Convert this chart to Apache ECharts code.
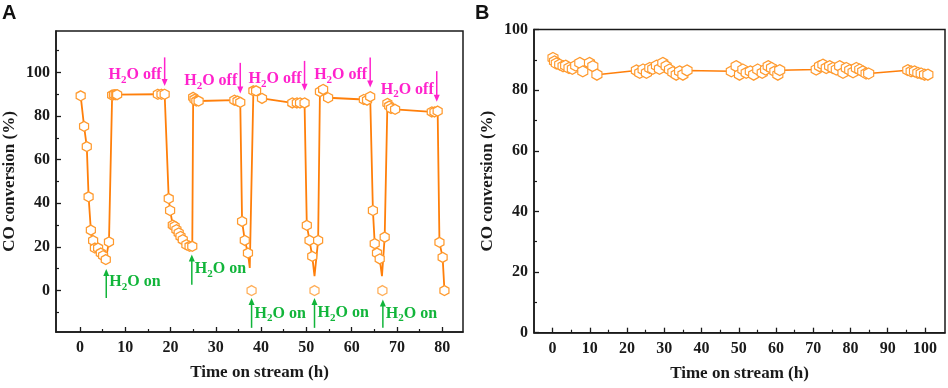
<!DOCTYPE html>
<html>
<head>
<meta charset="utf-8">
<script src="https://cdn.jsdelivr.net/npm/echarts@6/dist/echarts.min.js"></script>
<style>html,body{margin:0;padding:0;background:#fff}#c{width:948px;height:388px}</style>
</head>
<body>
<div id="c"></div>
<script>
// ---------- Panel A data ----------
const aTime = [0.15,0.9,1.5,1.9,2.4,2.9,3.3,4.0,4.6,5.1,5.7,6.4,7.1,7.5,7.9,8.2,17.2,18.0,18.7,
  19.6,19.9,20.5,20.9,21.3,21.8,22.2,22.7,23.5,24.2,24.8,25.0,25.3,25.7,26.2,34.1,34.8,35.4,
  35.8,36.4,37.1,37.5,38.3,38.9,40.2,46.9,47.9,48.6,49.6,50.1,50.7,51.3,51.8,52.6,53.0,53.7,54.8,
  62.7,63.4,64.1,64.7,65.1,65.6,66.2,66.7,67.3,67.9,68.3,68.7,69.6,77.7,78.3,79.0,79.4,80.1,80.5];
const aConv = [89.3,75.3,66,43,27.7,22.9,19.5,19.5,17.2,16,14.2,22.3,89.6,89.8,89.8,89.8,90,90,90,
  42.2,36.7,30,29.4,27.9,26.4,24.8,23.3,21,20.3,20.3,88.6,87.7,86.9,86.9,87.3,86.9,86.3,
  31.7,23,17.2,10.4,91.6,91.6,88.1,86,86,86,86,29.9,23,15.7,6.6,23,91.2,92.2,88.4,
  87.6,87.3,88.9,36.7,21.5,17.2,14.5,6.6,24.5,85.8,84.6,83.5,83.1,81.9,81.9,82.3,22.1,15.2,0];
// 0 = line vertex without a marker
const aMarker = [1,1,1,1,1,1,1,1,1,1,1,1,1,1,1,1,1,1,1,
  1,1,1,1,1,1,1,1,1,1,1,1,1,1,1,1,1,1,
  1,1,1,0,1,1,1,1,1,1,1,1,1,1,0,1,1,1,1,
  1,1,1,1,1,1,1,0,1,1,1,1,1,1,1,1,1,1,1];
// detached zero points
const aZeroTime = [37.9,51.8,66.8];
const aZeroConv = [0,0,0];

// annotations (data coordinates)
const offX = [18.7,35.4,49.6,64.1,78.8];
const offTop = [106.9,104.4,105.3,106.9,100.6];
const offBottom = [93.8,90.4,91.6,93.1,86.6];
const offTextY = [98.8,96.2,97,98.8,92.2];
const onX = [5.8,24.7,37.9,51.8,66.9];
const onBottom = [-3.4,2.7,-17.1,-17.1,-17.1];
const onTop = [9.9,16.5,-3.4,-3.4,-4.1];
const onTextY = [3.8,9.9,-10.5,-10.2,-10.5];

// ---------- Panel B data ----------
const bTime = [0.1,0.5,1.0,1.9,2.8,3.5,4.4,5.3,6.2,7.3,8.1,9.9,10.8,11.9,
  22.5,23.4,24.3,25.2,26.1,26.9,27.9,28.7,29.6,30.5,31.4,32.3,33.2,34.1,35.0,36.1,
  48.0,49.3,50.2,51.1,52.0,53.1,54.0,55.1,56.3,57.2,57.9,58.8,59.7,60.5,61.0,
  70.8,71.7,72.6,73.5,74.4,75.3,76.2,77.1,78.0,78.9,79.8,80.7,81.6,82.5,83.3,84.2,84.9,
  95.4,96.3,97.2,98.1,99.0,99.9,100.8];
const bConv = [90.6,89.5,88.8,88.4,87.9,88.1,87.3,87.0,88.1,89,86.2,89,87.9,85.1,
  86.5,85.7,86.8,85.7,87.3,87.0,88.1,87.0,89,87.9,86.8,85.9,85.1,86.2,85.1,86.5,
  86.2,87.9,85.1,86.8,85.7,86.2,85.1,86.8,85.7,86.8,87.9,87.3,86.2,85.1,86.6,
  86.8,87.9,88.4,87.3,87.9,87.3,86.8,87.9,85.7,87.3,86.6,85.9,87.3,86.8,86.2,85.5,85.5,
  86.6,86.2,86.2,85.7,85.5,85.1,85.1];

const xTicksA = [0,10,20,30,40,50,60,70,80];
const xMinorA = [5,15,25,35,45,55,65,75];
const yTicksA = [0,20,40,60,80,100];
const yMinorA = [-10,10,30,50,70,90,110];
const xTicksB = [0,10,20,30,40,50,60,70,80,90,100];
const xMinorB = [5,15,25,35,45,55,65,75,85,95];
const yMinorB = [10,30,50,70,90];

// ---------- styles ----------
const ORANGE = '#ff7f0a';
const MARK = '#ff9a2e';
const MAGENTA = '#ff22cc';
const GREEN = '#11b53a';
const AX = '#1a1a1a';
const SERIF = 'Liberation Serif';
const HEX = 'path://M0,-10L8.66,-5L8.66,5L0,10L-8.66,5L-8.66,-5Z';

function mainX(grid, min, max, ticks){
  return {type:'value', gridIndex:grid, min:min, max:max, position:'bottom',
    name:'Time on stream (h)', nameLocation:'middle', nameGap:32,
    nameTextStyle:{fontFamily:SERIF, fontWeight:'bold', fontSize:17, color:AX},
    axisLine:{onZero:false, lineStyle:{color:AX, width:1.5}},
    axisTick:{inside:true, length:5, customValues:ticks, lineStyle:{color:AX, width:1.3}},
    axisLabel:{customValues:ticks, fontFamily:SERIF, fontWeight:'bold', fontSize:16, color:AX, margin:8},
    splitLine:{show:false}};
}
function minorAxis(grid, min, max, vals, pos){
  return {type:'value', gridIndex:grid, min:min, max:max, position:pos,
    axisLine:{show:false, onZero:false}, axisLabel:{show:false}, splitLine:{show:false},
    axisTick:{inside:true, length:3, customValues:vals, lineStyle:{color:AX, width:1.2}}};
}
function mainY(grid, min, max, ticks){
  return {type:'value', gridIndex:grid, min:min, max:max, position:'left',
    name:'CO conversion (%)', nameLocation:'middle', nameGap:38, nameRotate:90,
    nameTextStyle:{fontFamily:SERIF, fontWeight:'bold', fontSize:17, color:AX},
    axisLine:{onZero:false, lineStyle:{color:AX, width:1.5}},
    axisTick:{inside:true, length:5, customValues:ticks, lineStyle:{color:AX, width:1.3}},
    axisLabel:{customValues:ticks, fontFamily:SERIF, fontWeight:'bold', fontSize:16, color:AX, margin:6},
    splitLine:{show:false}};
}

const lineDataA = aTime.map((t,i)=> aMarker[i] ? [t,aConv[i]] : {value:[t,aConv[i]], symbol:'none'});
const zeroDataA = aZeroTime.map((t,i)=>[t,aZeroConv[i]]);
const lineDataB = bTime.map((t,i)=>[t,bConv[i]]);

const chart = echarts.init(document.getElementById('c'), null, {renderer:'canvas'});
chart.setOption({
  animation:false,
  grid:[
    {left:54, right:485, top:31, bottom:56, show:true, borderColor:AX, borderWidth:1.5, containLabel:false},
    {left:534, right:3, top:29.5, bottom:55.3, show:true, borderColor:AX, borderWidth:1.5, containLabel:false}
  ],
  xAxis:[
    mainX(0,-5.3,84.6,xTicksA),
    minorAxis(0,-5.3,84.6,xMinorA,'bottom'),
    mainX(1,-5,105.4,xTicksB),
    minorAxis(1,-5,105.4,xMinorB,'bottom')
  ],
  yAxis:[
    mainY(0,-19,119,yTicksA),
    minorAxis(0,-19,119,yMinorA,'left'),
    mainY(1,0,100,yTicksA),
    minorAxis(1,0,100,yMinorB,'left')
  ],
  series:[
    {type:'line', xAxisIndex:0, yAxisIndex:0, data:lineDataA, symbol:HEX, symbolSize:[9,10],
      lineStyle:{color:ORANGE, width:1.8}, itemStyle:{color:'#fff', borderColor:MARK, borderWidth:1.3}, z:3},
    {type:'scatter', xAxisIndex:0, yAxisIndex:0, data:zeroDataA, symbol:HEX, symbolSize:[9,10],
      itemStyle:{color:'#fff', borderColor:MARK, borderWidth:1.3}, z:3},
    {type:'line', xAxisIndex:2, yAxisIndex:2, data:lineDataB, symbol:HEX, symbolSize:[10,11],
      lineStyle:{color:ORANGE, width:1.5}, itemStyle:{color:'#fff', borderColor:MARK, borderWidth:1.2}, z:3}
  ]
});

// annotations
function px(x,y){ return chart.convertToPixel({gridIndex:0}, [x,y]); }
const g = [];
const mctx = document.createElement('canvas').getContext('2d');
const F_MAIN = 'bold 16px "' + SERIF + '"';
const F_SUB = 'bold 11px "' + SERIF + '"';
function tw(s, f){ mctx.font = f; return mctx.measureText(s).width; }
function arrow(x, y1, y2, color){ // from y1 (tail) to y2 (head), pixel coords
  const dir = y2 > y1 ? 1 : -1;
  g.push({type:'line', shape:{x1:x, y1:y1, x2:x, y2:y2 - dir*5}, style:{stroke:color, lineWidth:1.5}, z:10});
  g.push({type:'polygon', shape:{points:[[x-3, y2-dir*7],[x+3, y2-dir*7],[x, y2]]}, style:{fill:color}, z:10});
}
function h2o(x, y, word, color, align){
  const rest = 'O ' + word;
  const wH = tw('H', F_MAIN), w2 = tw('2', F_SUB), wR = tw(rest, F_MAIN);
  const total = wH + w2 + wR;
  const x0 = align === 'right' ? x - total : x;
  const t = (txt, xx, yy, f) => g.push({type:'text', x:xx, y:yy, z:10, style:{
    text:txt, font:f, fill:color, align:'left', verticalAlign:'middle'}});
  t('H', x0, y, F_MAIN);
  t('2', x0 + wH, y + 5, F_SUB);
  t(rest, x0 + wH + w2, y, F_MAIN);
}
offX.forEach((x,i)=>{
  const t = px(x, offTop[i]), b = px(x, offBottom[i]), tx = px(x, offTextY[i]);
  arrow(t[0], t[1], b[1], MAGENTA);
  h2o(tx[0]-3, tx[1], 'off', MAGENTA, 'right');
});
onX.forEach((x,i)=>{
  const b = px(x, onBottom[i]), t = px(x, onTop[i]), tx = px(x, onTextY[i]);
  arrow(b[0], b[1], t[1], GREEN);
  h2o(tx[0]+3, tx[1], 'on', GREEN, 'left');
});
g.push({type:'text', left:2, top:3, style:{text:'A', fontFamily:'Liberation Sans', fontWeight:'bold', fontSize:20, fill:'#111'}});
g.push({type:'text', left:475, top:3, style:{text:'B', fontFamily:'Liberation Sans', fontWeight:'bold', fontSize:20, fill:'#111'}});
chart.setOption({graphic:g});
</script>
</body>
</html>
